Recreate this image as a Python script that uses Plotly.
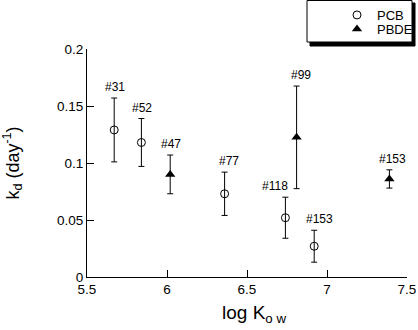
import plotly.graph_objects as go

# ---- data ----
pcb_logkow = [5.67, 5.84, 6.36, 6.74, 6.92]
pcb_kd = [0.129, 0.118, 0.073, 0.052, 0.027]
pcb_err = [0.028, 0.021, 0.019, 0.018, 0.014]
pcb_labels = ["#31", "#52", "#77", "#118", "#153"]

pbde_logkow = [6.02, 6.81, 7.39]
pbde_kd = [0.090, 0.1225, 0.086]
pbde_err = [0.017, 0.045, 0.008]
pbde_labels = ["#47", "#99", "#153"]

x_ticks = [5.5, 6, 6.5, 7, 7.5]
x_tick_text = ["5.5", "6", "6.5", "7", "7.5"]
y_ticks = [0, 0.05, 0.1, 0.15, 0.2]
y_tick_text = ["0", "0.05", "0.1", "0.15", "0.2"]

# ---- style ----
FONT = "Liberation Sans, Arial, Helvetica, sans-serif"
W, H = 418, 330
ML, MR, MT, MB = 87, 11, 49, 53
PW, PH = W - ML - MR, H - MT - MB
pcb_label_xshift = [1, 1, 4, -10, 5]
pbde_label_xshift = [1, 4, 3]


def px_x(p):
    return (p - ML) / PW


def px_y(p):
    return (H - MB - p) / PH


fig = go.Figure()
fig.add_trace(go.Scatter(
    x=pcb_logkow, y=pcb_kd, mode="markers", name="PCB", legend="legend",
    marker=dict(symbol="circle-open", size=8, color="black", line=dict(width=1, color="black")),
    error_y=dict(type="data", array=pcb_err, visible=True, color="black", thickness=1, width=3),
))
fig.add_trace(go.Scatter(
    x=pbde_logkow, y=pbde_kd, mode="markers", name="PBDE", legend="legend2",
    marker=dict(symbol="triangle-up", size=9, color="black"),
    error_y=dict(type="data", array=pbde_err, visible=True, color="black", thickness=1, width=3),
))

annotations = []
for xs, ys, es, labs, shifts in [
    (pcb_logkow, pcb_kd, pcb_err, pcb_labels, pcb_label_xshift),
    (pbde_logkow, pbde_kd, pbde_err, pbde_labels, pbde_label_xshift),
]:
    for x, y, e, lab, sh in zip(xs, ys, es, labs, shifts):
        annotations.append(dict(
            x=x, y=y + e, xref="x", yref="y", text=lab, showarrow=False,
            yanchor="bottom", xanchor="center", yshift=2, xshift=sh,
            font=dict(family=FONT, size=12, color="black"),
        ))

# x-axis title placed as annotation (slightly right of centre, as in the reference)
annotations.append(dict(
    x=px_x(254), y=px_y(314), xref="paper", yref="paper",
    text="log K<sub>o w</sub>", showarrow=False, xanchor="center", yanchor="middle",
    font=dict(family=FONT, size=19, color="black"),
))

shapes = [
    # legend shadow
    dict(type="rect", xref="paper", yref="paper",
         x0=px_x(310), x1=px_x(415), y0=px_y(46), y1=px_y(3),
         fillcolor="black", line=dict(color="black", width=1), layer="below"),
    # legend box
    dict(type="rect", xref="paper", yref="paper",
         x0=px_x(307), x1=px_x(412), y0=px_y(42), y1=px_y(0.5),
         fillcolor="white", line=dict(color="black", width=1), layer="below"),
]

legend_common = dict(
    xanchor="left", yanchor="top", orientation="h",
    entrywidth=30, entrywidthmode="pixels",
    bgcolor="rgba(0,0,0,0)", borderwidth=0,
    font=dict(family=FONT, size=13, color="black"),
    itemclick=False,
)

fig.update_layout(
    width=W, height=H,
    margin=dict(l=ML, r=MR, t=MT, b=MB, pad=0, autoexpand=False),
    paper_bgcolor="white", plot_bgcolor="white",
    font=dict(family=FONT, color="black", size=13),
    showlegend=True,
    legend=dict(x=px_x(337), y=px_y(0), **legend_common),
    legend2=dict(x=px_x(337), y=px_y(14), **legend_common),
    annotations=annotations,
    shapes=shapes,
    xaxis=dict(
        range=[5.5, 7.5], tickvals=x_ticks, ticktext=x_tick_text,
        showline=True, linecolor="black", linewidth=1, mirror=False,
        ticks="inside", ticklen=7, tickcolor="black", tickwidth=1,
        showgrid=False, zeroline=False,
        tickfont=dict(family=FONT, size=13.5, color="black"),
    ),
    yaxis=dict(
        range=[0, 0.2], tickvals=y_ticks, ticktext=y_tick_text,
        showline=True, linecolor="black", linewidth=1, mirror=False,
        ticks="inside", ticklen=7, tickcolor="black", tickwidth=1,
        showgrid=False, zeroline=False,
        tickfont=dict(family=FONT, size=13.5, color="black"),
        title=dict(text="k<sub>d</sub> (day<sup>-1</sup>)", font=dict(family=FONT, size=18, color="black"), standoff=34),
    ),
)

fig.write_html("out.html")
